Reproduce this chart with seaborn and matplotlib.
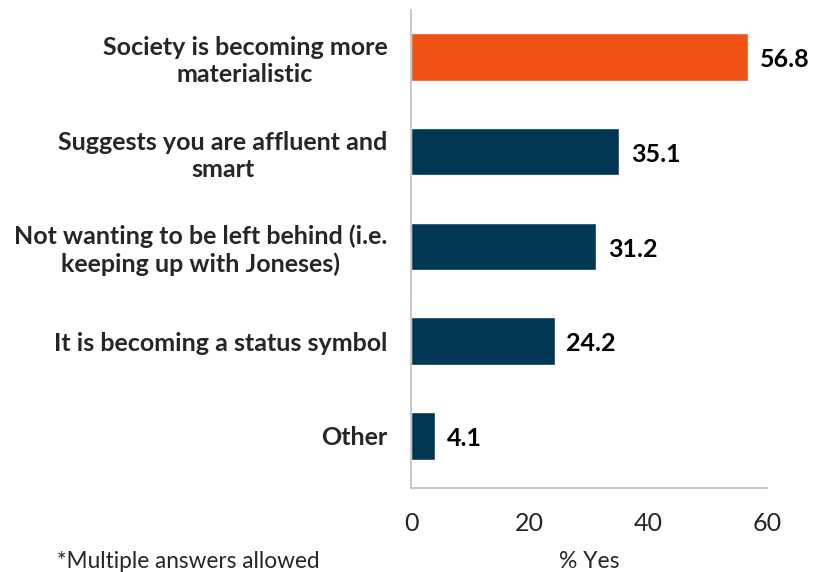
import matplotlib
matplotlib.use("Agg")
import matplotlib.pyplot as plt
import seaborn as sns
import pandas as pd

categories = [
    "Society is becoming more\nmaterialistic",
    "Suggests you are affluent and\nsmart",
    "Not wanting to be left behind (i.e.\nkeeping up with Joneses)",
    "It is becoming a status symbol",
    "Other",
]
values = [56.8, 35.1, 31.2, 24.2, 4.1]
bar_colors = ["#F05215", "#023753", "#023753", "#023753", "#023753"]
x_ticks = [0, 20, 40, 60]

sns.set_theme(style="white")
plt.rcParams["font.family"] = ["Lato", "DejaVu Sans"]

df = pd.DataFrame({"reason": categories, "pct": values})

fig = plt.figure(figsize=(8.14, 5.72), dpi=100)
ax = fig.add_axes([0.505, 0.147, 0.437, 0.836])

sns.barplot(data=df, y="reason", x="pct", hue="reason", palette=bar_colors,
            legend=False, width=0.5, orient="h", ax=ax, saturation=1)

for i, v in enumerate(values):
    ax.text(v + 2.0, i + 0.03, f"{v:.1f}", va="center", ha="left",
            fontsize=18, fontweight="bold", color="black")

ax.set_xlim(0, 60)
ax.set_ylim(4.55, -0.5)
ax.set_xticks(x_ticks)
ax.set_xticklabels([str(t) for t in x_ticks], fontsize=18)
ax.set_ylabel("")
ax.set_xlabel("% Yes", fontsize=16.5, labelpad=12)

for lbl in ax.get_yticklabels():
    lbl.set_fontweight("bold")
    lbl.set_fontsize(18)
    lbl.set_multialignment("center")
    lbl.set_linespacing(1.2)
ax.tick_params(axis="y", length=0, pad=17)
ax.tick_params(axis="x", length=8, width=1, color="#BFBFBF", direction="out", pad=9)

for side in ["top", "right"]:
    ax.spines[side].set_visible(False)
for side in ["left", "bottom"]:
    ax.spines[side].set_color("#BFBFBF")
    ax.spines[side].set_linewidth(1.2)

fig.text(0.07, 0.0, "*Multiple answers allowed", fontsize=16.3, ha="left", va="bottom")

fig.savefig("out.png", dpi=100)
